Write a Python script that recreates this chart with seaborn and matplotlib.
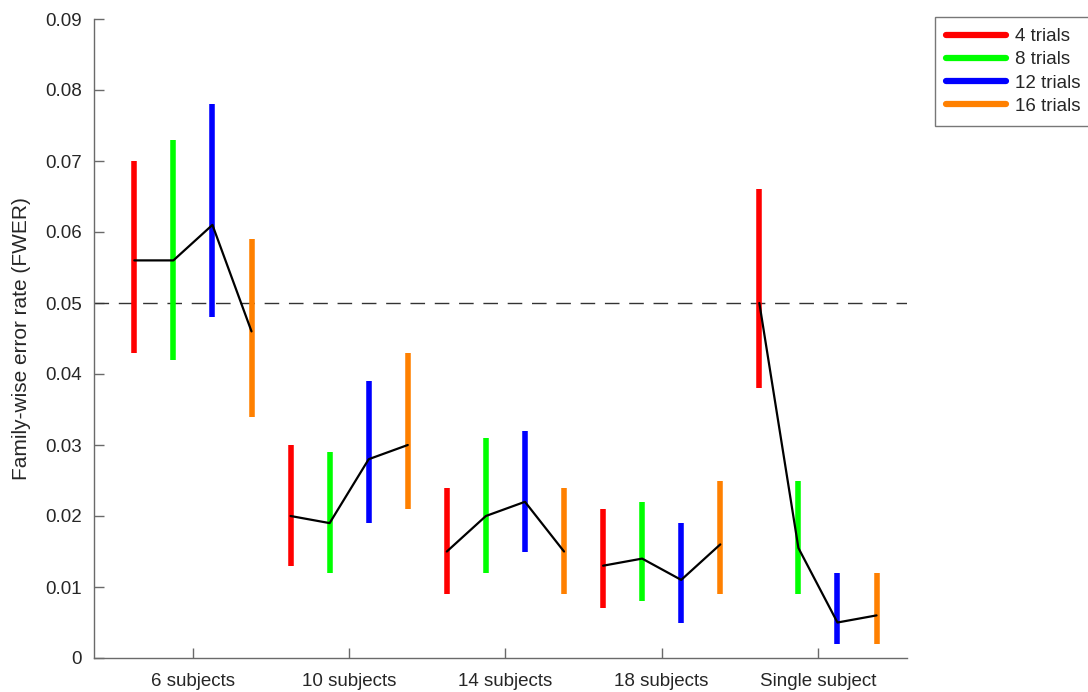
import numpy as np
import pandas as pd
import matplotlib
matplotlib.use("Agg")
import matplotlib.pyplot as plt
import seaborn as sns
from matplotlib.lines import Line2D

groups = ["6 subjects", "10 subjects", "14 subjects", "18 subjects", "Single subject"]
trials = ["4 trials", "8 trials", "12 trials", "16 trials"]
colors = ["#FF0000", "#00FF00", "#0000FF", "#FF8000"]

# mean FWER per group (rows) and trial count (columns)
fwer = [
    [0.056, 0.056, 0.061, 0.046],
    [0.020, 0.019, 0.028, 0.030],
    [0.015, 0.020, 0.022, 0.015],
    [0.013, 0.014, 0.011, 0.016],
    [0.050, 0.0155, 0.005, 0.006],
]
lower = [
    [0.043, 0.042, 0.048, 0.034],
    [0.013, 0.012, 0.019, 0.021],
    [0.009, 0.012, 0.015, 0.009],
    [0.007, 0.008, 0.005, 0.009],
    [0.038, 0.009, 0.002, 0.002],
]
upper = [
    [0.070, 0.073, 0.078, 0.059],
    [0.030, 0.029, 0.039, 0.043],
    [0.024, 0.031, 0.032, 0.024],
    [0.021, 0.022, 0.019, 0.025],
    [0.066, 0.025, 0.012, 0.012],
]
yticks = [0, 0.01, 0.02, 0.03, 0.04, 0.05, 0.06, 0.07, 0.08, 0.09]
threshold = 0.05

offsets = [-0.375, -0.125, 0.125, 0.375]
rows = []
for gi, g in enumerate(groups):
    for ti, t in enumerate(trials):
        rows.append(dict(group=g, trial=t, pos=gi + 1 + offsets[ti],
                         mean=fwer[gi][ti], lo=lower[gi][ti], hi=upper[gi][ti]))
df = pd.DataFrame(rows)

sns.set_style("white")
plt.rcParams["font.family"] = ["Liberation Sans", "DejaVu Sans"]

fig = plt.figure(figsize=(10.88, 6.92), dpi=100)
ax = fig.add_axes([94 / 1088, 1 - 658 / 692, (907 - 94) / 1088, (658 - 19) / 692])

txt = "#262626"
spine_c = "#6a6a6a"

ax.axhline(threshold, color="#333333", lw=1.0, dashes=(10.5, 7.0), zorder=1)

# colored interval bars
for ti, t in enumerate(trials):
    sub = df[df.trial == t]
    ax.vlines(sub["pos"], sub["lo"], sub["hi"], color=colors[ti], lw=4.0, zorder=2)

# black lines per group
sns.lineplot(data=df, x="pos", y="mean", units="group", estimator=None,
             color="black", lw=1.6, ax=ax, zorder=3, legend=False)

ax.set_xlim(0.367, 5.57)
ax.set_ylim(0, 0.09)
ax.set_xticks(range(1, len(groups) + 1))
ax.set_xticklabels(groups)
ax.set_yticks(yticks)
ax.set_yticklabels(["0"] + [f"{v:.2f}" for v in yticks[1:]])
ax.set_xlabel("")
ax.set_ylabel("Family-wise error rate (FWER)", fontsize=15, color=txt, labelpad=10)

for s in ["top", "right"]:
    ax.spines[s].set_visible(False)
for s in ["left", "bottom"]:
    ax.spines[s].set_color(spine_c)
    ax.spines[s].set_linewidth(1.0)
ax.tick_params(axis="both", which="major", direction="in", length=7, width=1.0,
               color=spine_c, labelsize=13.5, labelcolor=txt,
               bottom=True, left=True, top=False, right=False)
ax.tick_params(axis="x", pad=11)
ax.tick_params(axis="y", pad=9)

handles = [Line2D([0], [0], color=c, lw=4.5) for c in colors]
leg = fig.legend(handles, trials, loc="upper left",
                 bbox_to_anchor=(935 / 1088, 1 - 17 / 692),
                 frameon=True, fancybox=False, fontsize=13.5, handlelength=3.2,
                 handletextpad=0.45, labelspacing=0.32, borderpad=0.6, borderaxespad=0)
leg.get_frame().set_edgecolor("#555555")
leg.get_frame().set_linewidth(1.0)
for t in leg.get_texts():
    t.set_color(txt)

fig.savefig("out.png", dpi=100)
